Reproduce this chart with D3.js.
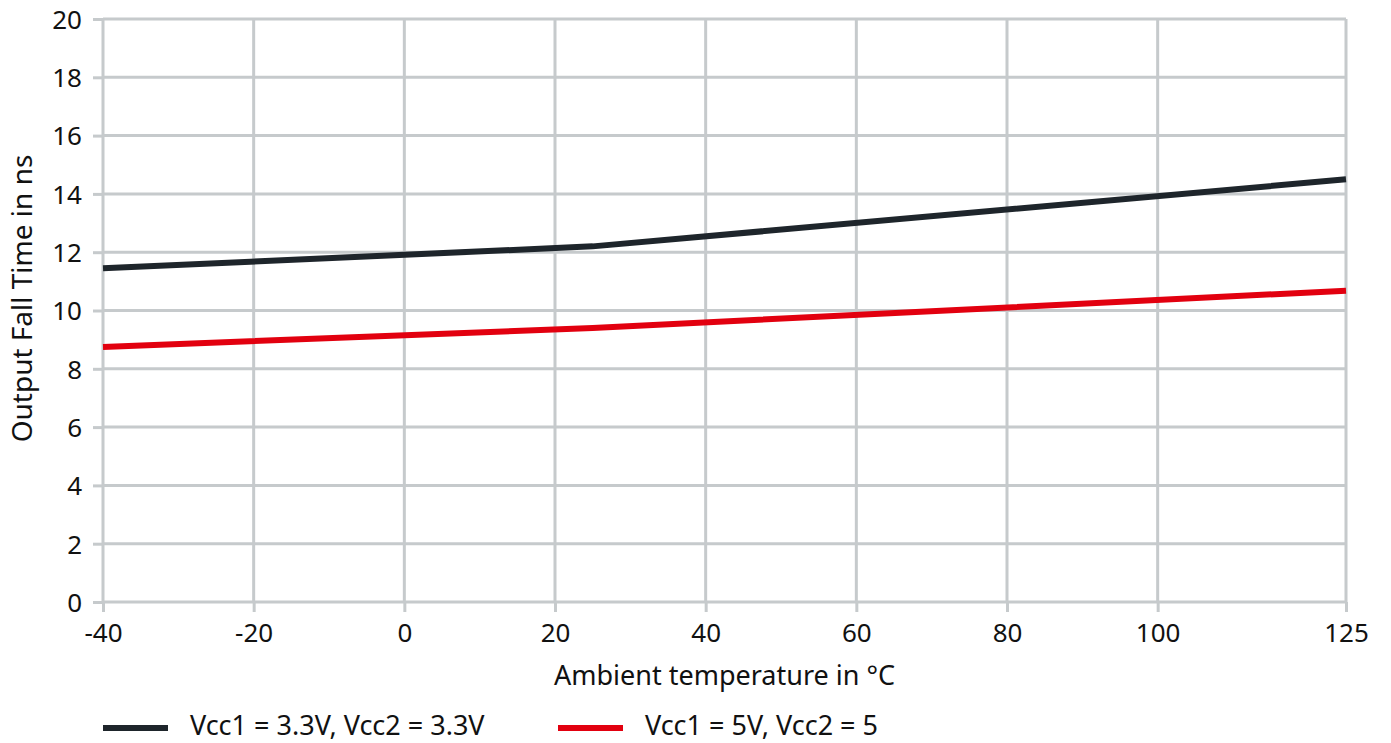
<!DOCTYPE html>
<html>
<head>
<meta charset="utf-8">
<script src="https://cdn.jsdelivr.net/npm/d3@7"></script>
<style>
  body { margin: 0; background: #fff; }
  svg text { font-family: "Noto Sans", sans-serif; fill: #111; }
</style>
</head>
<body>
<div id="chart"></div>
<script>
const tempC = [-40, 25, 125];
const fallVcc33 = [11.45, 12.2, 14.5];
const fallVcc5 = [8.75, 9.4, 10.68];
const xTicks = [-40, -20, 0, 20, 40, 60, 80, 100, 125];
const yTicks = [0, 2, 4, 6, 8, 10, 12, 14, 16, 18, 20];
const seriesNames = ['Vcc1 = 3.3V, Vcc2 = 3.3V', 'Vcc1 = 5V, Vcc2 = 5'];
const seriesColors = ['#1e252b', '#e2000f'];

const W = 1391, H = 743;
const margin = { top: 19, right: 45, bottom: 141, left: 103 };
const width = W - margin.left - margin.right;
const height = H - margin.top - margin.bottom;
const gridColor = '#c6cacc';

const svg = d3.select('#chart')
  .append('svg')
  .attr('width', W)
  .attr('height', H);

const g = svg.append('g')
  .attr('transform', `translate(${margin.left},${margin.top})`);

const x = d3.scaleLinear().domain([-40, 125]).range([0, width]);
const y = d3.scaleLinear().domain([0, 20]).range([height, 0]);

// grid
g.append('g').selectAll('line')
  .data(yTicks)
  .enter()
  .append('line')
  .attr('x1', 0).attr('x2', width)
  .attr('y1', d => y(d)).attr('y2', d => y(d))
  .attr('stroke', gridColor).attr('stroke-width', 3);

g.append('g').selectAll('line')
  .data(xTicks)
  .enter()
  .append('line')
  .attr('y1', 0).attr('y2', height)
  .attr('x1', d => x(d)).attr('x2', d => x(d))
  .attr('stroke', gridColor).attr('stroke-width', 3);

// axes
const yAxis = g.append('g')
  .call(d3.axisLeft(y).tickValues(yTicks).tickSize(10).tickPadding(11));
const xAxis = g.append('g')
  .attr('transform', `translate(0,${height})`)
  .call(d3.axisBottom(x).tickValues(xTicks).tickSize(10).tickPadding(10).tickFormat(d => d));

[yAxis, xAxis].forEach(ax => {
  ax.select('.domain').remove();
  ax.selectAll('.tick line').attr('stroke', gridColor).attr('stroke-width', 3);
  ax.selectAll('.tick text')
    .style('font-size', '26px')
    .attr('font-family', null)
    .attr('fill', '#111');
});
yAxis.selectAll('.tick text').attr('dy', '0.36em');
xAxis.selectAll('.tick text').attr('dy', '0.76em');

// axis titles
g.append('text')
  .attr('x', width / 2)
  .attr('y', height + 83)
  .style('text-anchor', 'middle')
  .style('font-size', '27px')
  .text('Ambient temperature in \u00B0C');

g.append('text')
  .attr('transform', `translate(${-margin.left + 32},${height / 2 - 12}) rotate(-90)`)
  .style('text-anchor', 'middle')
  .style('font-size', '28px')
  .text('Output Fall Time in ns');

// lines
const line = d3.line()
  .x(d => x(d[0]))
  .y(d => y(d[1]));

[fallVcc33, fallVcc5].forEach((vals, i) => {
  g.append('path')
    .datum(tempC.map((t, j) => [t, vals[j]]))
    .attr('fill', 'none')
    .attr('stroke', seriesColors[i])
    .attr('stroke-width', 6)
    .attr('d', line);
});

// legend
const legendX = [0, 455];
const legend = svg.append('g')
  .attr('transform', `translate(${margin.left},728)`);

seriesNames.forEach((name, i) => {
  const item = legend.append('g').attr('transform', `translate(${legendX[i]},0)`);
  item.append('line')
    .attr('x1', 0).attr('x2', 65)
    .attr('y1', 0).attr('y2', 0)
    .attr('stroke', seriesColors[i])
    .attr('stroke-width', 6);
  item.append('text')
    .attr('x', 87)
    .attr('y', 7)
    .style('font-size', '27px')
    .text(name);
});
</script>
</body>
</html>
